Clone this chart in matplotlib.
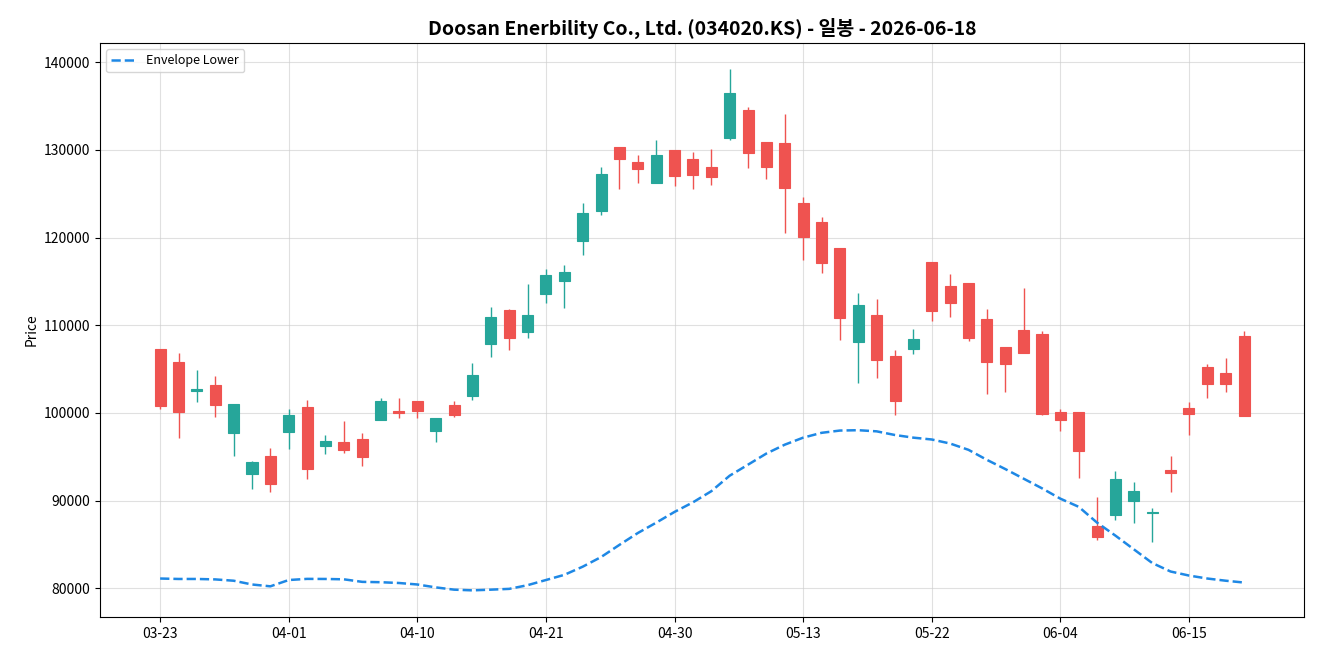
import matplotlib.pyplot as plt
import numpy as np

plt.rcParams['font.family'] = ['Noto Sans CJK KR', 'DejaVu Sans']
plt.rcParams['axes.unicode_minus'] = False

# 거래일 (03-23 ~ 06-18)
dates = ['03-23', '03-24', '03-25', '03-26', '03-27', '03-30', '03-31', '04-01', '04-02', '04-03',
         '04-06', '04-07', '04-08', '04-09', '04-10', '04-13', '04-14', '04-15', '04-16', '04-17',
         '04-20', '04-21', '04-22', '04-23', '04-24', '04-27', '04-28', '04-29', '04-30', '05-04',
         '05-06', '05-07', '05-08', '05-11', '05-12', '05-13', '05-14', '05-15', '05-18', '05-19',
         '05-20', '05-21', '05-22', '05-26', '05-27', '05-28', '05-29', '06-01', '06-02', '06-04',
         '06-05', '06-08', '06-09', '06-10', '06-11', '06-12', '06-15', '06-16', '06-17', '06-18']

opens = [107300, 105780, 102450, 103120, 97680, 93000, 95060, 97810, 100630, 96200,
         96620, 96960, 99160, 100210, 101310, 97890, 100840, 101900, 107810, 111690,
         109200, 113540, 115020, 119580, 122990, 130380, 128560, 126200, 129960, 128900,
         128020, 131390, 134600, 130840, 130760, 123920, 121730, 118860, 108060, 111140,
         106540, 107260, 117170, 114430, 114770, 110670, 107470, 109410, 108940, 100080,
         100040, 87050, 88310, 89920, 88520, 93460, 100510, 105190, 104600, 108730]
highs = [107300, 106840, 104890, 104220, 100970, 94520, 95990, 100420, 101480, 97470,
         99070, 97720, 101690, 101690, 101310, 99370, 101310, 105700, 112110, 111810,
         114680, 116410, 116880, 123920, 128060, 130380, 129410, 131140, 129960, 129750,
         130080, 139240, 134850, 130840, 134090, 124640, 122320, 118860, 113670, 113000,
         107170, 109580, 117170, 115820, 114770, 111860, 107470, 114260, 109280, 100420,
         100040, 90420, 93380, 92110, 89200, 95060, 101220, 105530, 106240, 109320]
lows = [100420, 97170, 101270, 99580, 95020, 91350, 91010, 95910, 92490, 95280,
        95440, 93970, 99160, 99450, 99450, 96710, 99580, 101520, 106410, 107210,
        108570, 112570, 111980, 118060, 122570, 125570, 126240, 126200, 125860, 125570,
        126030, 131180, 127970, 126710, 120470, 117470, 115950, 108360, 103460, 103920,
        99700, 106750, 110460, 110970, 108140, 102150, 102400, 106880, 99700, 97890,
        92620, 85450, 87770, 87470, 85320, 91010, 97510, 101730, 102400, 99620]
closes = [100760, 100080, 102700, 100840, 100970, 94350, 91860, 99700, 93590, 96750,
          95740, 94940, 101310, 99960, 100170, 99370, 99750, 104260, 110890, 108520,
          111140, 115780, 116030, 122740, 127210, 128940, 127760, 129370, 127050, 127170,
          126960, 136540, 129620, 128020, 125610, 120040, 117050, 110800, 112280, 105990,
          101310, 108480, 111600, 112570, 108520, 105820, 105610, 106880, 99920, 99160,
          95610, 85820, 92410, 91140, 88650, 93120, 99830, 103250, 103250, 99620]
env_lower = [81100, 81050, 81050, 81000, 80850, 80420, 80210, 80930, 81060, 81050,
             81010, 80720, 80680, 80590, 80420, 80090, 79830, 79750, 79830, 79920,
             80340, 80930, 81520, 82450, 83550, 84940, 86290, 87470, 88700, 89790,
             91060, 92830, 94090, 95360, 96370, 97170, 97720, 97980, 98020, 97890,
             97470, 97170, 96960, 96500, 95780, 94640, 93590, 92490, 91390, 90210,
             89280, 87470, 85990, 84430, 82870, 81900, 81440, 81100, 80850, 80640]

up_color = '#26a69a'
down_color = '#ef5350'

x = np.arange(len(dates))
o = np.array(opens)
c = np.array(closes)
colors = [up_color if cc >= oo else down_color for oo, cc in zip(o, c)]

fig, ax = plt.subplots(figsize=(13.2, 6.6), dpi=100)
fig.subplots_adjust(left=0.0758, right=0.988, bottom=0.065, top=0.935)

# 심지
ax.vlines(x, lows, highs, colors=colors, linewidth=1, zorder=2)
# 몸통
body_bottom = np.minimum(o, c)
body_height = np.maximum(np.abs(c - o), 150)
ax.bar(x, body_height, bottom=body_bottom, width=0.6, color=colors,
       edgecolor=colors, linewidth=0.8, zorder=3)

ax.plot(x, env_lower, '--', color='#1e88e5', linewidth=1.8, label='Envelope Lower', zorder=4)

ax.set_xlim(-3.27, 62.27)
ax.set_ylim(76700, 142200)
ax.set_xticks(x[::7])
ax.set_xticklabels([dates[i] for i in range(0, len(dates), 7)])
ax.set_ylabel('Price')
ax.set_title('Doosan Enerbility Co., Ltd. (034020.KS) - 일봉 - 2026-06-18',
             fontsize=14, fontweight='bold')
ax.grid(True, color='#cccccc', alpha=0.6, linewidth=0.8)
ax.set_axisbelow(True)
ax.legend(loc='upper left', fontsize=9)

plt.savefig('out.png', dpi=100)
